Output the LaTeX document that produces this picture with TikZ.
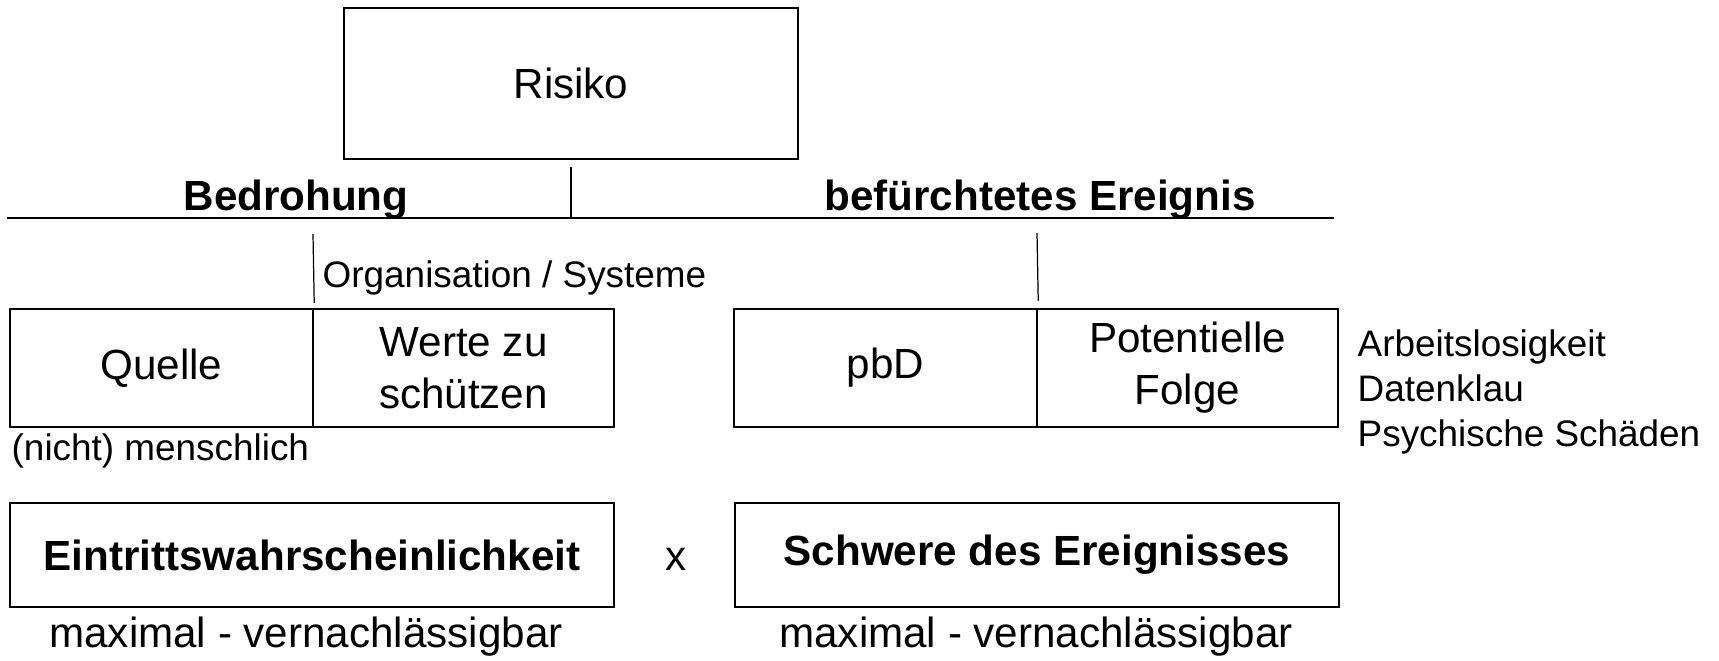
\documentclass[tikz,border=0pt]{standalone}
\usepackage{fontspec}
\setmainfont{Liberation Sans}

\begin{document}
\begin{tikzpicture}[x=0.1mm, y=-0.1mm,
        box/.style={draw, line width=0.7pt, inner sep=0pt, align=center,
            font=\fontsize{12}{14.8}\selectfont},
        big/.style={inner sep=0pt, font=\fontsize{12}{14.8}\selectfont},
        head/.style={inner sep=0pt, font=\bfseries\fontsize{12}{14.8}\selectfont},
        small/.style={inner sep=0pt, font=\fontsize{10.5}{12.8}\selectfont},
        link/.style={line width=0.35pt}]
        \useasboundingbox (0,0) rectangle (1719,660);
        % top
        \node[box, minimum width=45.4mm, minimum height=15.1mm] (risiko) at (571,83.5) {Risiko};
        \coordinate (hl) at (7,218);
        \coordinate (hr) at (1334,218);
        \draw[line width=0.5pt] (hl) -- (hr);
        \draw[link, shorten <=2pt] (risiko.south) -- (risiko.south |- hl);
        \node[head, anchor=base] (bedrohung) at (296,210) {Bedrohung};
        \node[head, anchor=base] (ereignis) at (1040,210) {befürchtetes Ereignis};
        % middle row
        \node[box, minimum width=30.3mm, minimum height=11.8mm] (quelle) at (161.5,368) {Quelle};
        \node[box, minimum width=30.1mm, minimum height=11.8mm] (werte) at (463.5,368) {Werte zu\\schützen};
        \node[box, minimum width=30.3mm, minimum height=11.8mm] (pbd) at (885.5,368) {pbD};
        \node[box, minimum width=30.1mm, minimum height=11.8mm] (folge) at (1187.5,368) {Potentielle\\Folge};
        \coordinate (q1) at (313,234);
        \coordinate (p1) at (1037,233);
        \draw[link] (q1) -- ([yshift=1.4pt]quelle.north east);
        \draw[link] (p1) -- ([yshift=2pt]pbd.north east);
        \node[small, anchor=base west] (organisation) at (322,287) {Organisation / Systeme};
        \node[small, anchor=base west] (menschlich) at (11,460) {(nicht) menschlich};
        \node[small, anchor=base west] (folge1) at (1357,356) {Arbeitslosigkeit};
        \node[small, anchor=base west] (folge2) at (1357,401) {Datenklau};
        \node[small, anchor=base west] (folge3) at (1357,446) {Psychische Schäden};
        % bottom
        \node[box, minimum width=60.4mm, minimum height=10.4mm] (eintritt) at (312,555)
            {\bfseries Eintrittswahrscheinlichkeit};
        \node[big] (mal) at (676,559) {x};
        \node[box, minimum width=60.4mm, minimum height=10.4mm] (schwere) at (1037,555)
            {\bfseries Schwere des Ereignisses};
        \node[big, anchor=base] (skala1) at (306,647) {maximal - vernachlässigbar};
        \node[big, anchor=base] (skala2) at (1036,647) {maximal - vernachlässigbar};
\end{tikzpicture}
\end{document}
